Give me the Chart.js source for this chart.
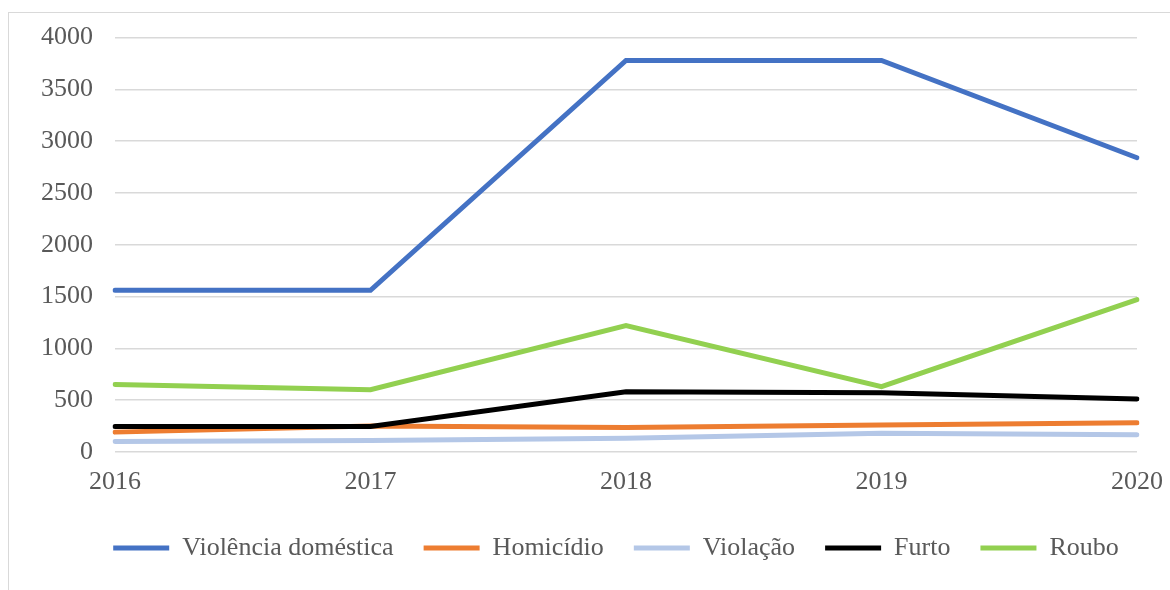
<!DOCTYPE html>
<html lang="pt">
<head>
    <meta charset="UTF-8">
    <title>Ocorrências 2016-2020</title>
    <style>
        body {
            margin: 0;
            padding: 0;
            background: #ffffff;
            overflow: hidden;
        }
        .frame {
            position: absolute;
            left: 8px;
            top: 12px;
            width: 1200px;
            height: 620px;
            border: 1px solid #d9d9d9;
        }
        .wrap {
            position: absolute;
            left: 0;
            top: 0;
            width: 1170px;
            height: 590px;
        }
    </style>
    <script src="https://cdn.jsdelivr.net/npm/chart.js"></script>
</head>
<body>
    <div class="frame"></div>
    <div class="wrap">
        <canvas id="grafico" width="1170" height="590"></canvas>
    </div>

    <script>
        const anos = ["2016", "2017", "2018", "2019", "2020"];
        const violenciaDomestica = [1560, 1560, 3780, 3780, 2840];
        const homicidio = [190, 250, 235, 260, 280];
        const violacao = [100, 110, 130, 180, 165];
        const furto = [245, 245, 580, 570, 510];
        const roubo = [650, 600, 1220, 630, 1470];

        const series = [
            { label: "Violência doméstica", data: violenciaDomestica, cor: "#4472C4" },
            { label: "Homicídio", data: homicidio, cor: "#ED7D31" },
            { label: "Violação", data: violacao, cor: "#B4C7E7" },
            { label: "Furto", data: furto, cor: "#000000" },
            { label: "Roubo", data: roubo, cor: "#92D050" }
        ];

        const fonte = { family: "'Liberation Serif', 'Times New Roman', serif", size: 26 };

        // a legenda do original fica um pouco à direita do centro
        const deslocaLegenda = {
            id: "deslocaLegenda",
            afterLayout(chart) {
                chart.legend.left += 15;
                chart.legend.right += 15;
            }
        };

        new Chart(document.getElementById("grafico"), {
            type: "line",
            data: {
                labels: anos,
                datasets: series.map((s, i) => ({
                    label: s.label,
                    data: s.data,
                    borderColor: s.cor,
                    backgroundColor: s.cor,
                    borderWidth: 5,
                    borderCapStyle: "round",
                    pointRadius: 0,
                    pointStyle: "line",
                    tension: 0,
                    order: series.length - i
                }))
            },
            options: {
                responsive: false,
                animation: false,
                layout: {
                    padding: { left: 19, right: -13, top: 23, bottom: 19 }
                },
                scales: {
                    x: {
                        offset: false,
                        grid: { display: false },
                        border: { display: false },
                        ticks: { color: "#595959", font: fonte, padding: 7, maxRotation: 0 }
                    },
                    y: {
                        min: 0,
                        max: 4000,
                        grid: { color: "#d9d9d9", lineWidth: 1.5, drawTicks: false },
                        border: { display: false },
                        ticks: {
                            stepSize: 500,
                            color: "#595959",
                            font: fonte,
                            padding: 22,
                            callback: v => String(v)
                        }
                    }
                },
                plugins: {
                    tooltip: { enabled: false },
                    legend: {
                        position: "bottom",
                        labels: {
                            usePointStyle: true,
                            pointStyleWidth: 56,
                            color: "#595959",
                            font: fonte,
                            padding: 30,
                            sort: (a, b) => a.datasetIndex - b.datasetIndex
                        }
                    }
                }
            },
            plugins: [deslocaLegenda]
        });
    </script>
</body>
</html>
